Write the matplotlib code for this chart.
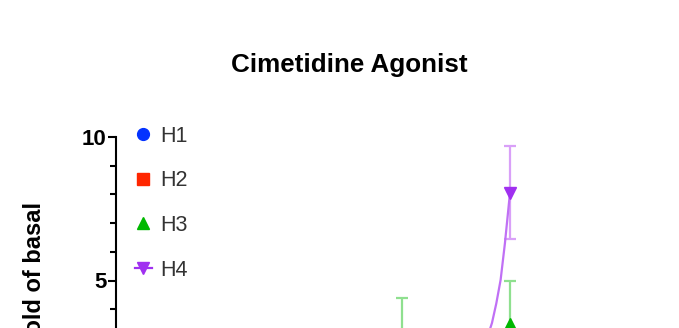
import matplotlib
matplotlib.use("Agg")
import matplotlib.pyplot as plt
from matplotlib.lines import Line2D

plt.rcParams['font.family'] = ['Liberation Sans', 'DejaVu Sans']

# Datos (log[cimetidina], veces sobre basal)
doses = [-7.0, -5.5, -4.0]
h1_mean = [1.0, 1.1, 1.2]
h1_sem = [0.1, 0.1, 0.2]
h2_mean = [1.0, 1.0, 1.1]
h2_sem = [0.1, 0.1, 0.1]
h3_mean = [1.0, 2.9, 3.5]
h3_sem = [0.2, 1.5, 1.48]
h4_mean = [1.0, 1.1, 8.05]
h4_sem = [0.1, 0.2, 1.62]

# Curva ajustada H4
h4_fit_x = [-7.0, -6.0, -5.0, -4.75, -4.5, -4.35, -4.25, -4.19, -4.13, -4.07, -4.0]
h4_fit_y = [1.0, 1.02, 1.15, 1.38, 1.98, 2.75, 3.52, 4.2, 5.02, 6.3, 8.05]

labels = ["H1", "H2", "H3", "H4"]
colors = ["#0433FF", "#FF2600", "#00B800", "#A030F0"]
light = ["#8FA0FF", "#FF9A8A", "#8FE08F", "#D9A0F8"]
markers = ["o", "s", "^", "v"]

fig = plt.figure(figsize=(6.79, 3.28), dpi=100)
ax = fig.add_axes([116/679, 1 - 424/328, 466/679, 287/328])

series = [(h1_mean, h1_sem), (h2_mean, h2_sem), (h3_mean, h3_sem), (h4_mean, h4_sem)]
for (m, s), c, lc, mk in zip(series, colors, light, markers):
    ax.errorbar(doses, m, yerr=s, fmt="none", ecolor=lc, elinewidth=1.6,
                capsize=4.3, capthick=1.6, zorder=2)
    ax.plot(doses, m, linestyle="none", marker=mk, color=c, markersize=8.5, zorder=3)

ax.plot(h4_fit_x, h4_fit_y, color="#C070F5", linewidth=1.6, zorder=2)

ax.set_xlim(-9.47, -3)
ax.set_ylim(0, 10)
ax.set_yticks([5, 10])
ax.set_yticks(range(0, 11), minor=True)
ax.tick_params(axis="y", which="major", length=6, width=1.5, labelsize=16, pad=1)
ax.tick_params(axis="y", which="minor", length=4, width=1.5)
for lab in ax.get_yticklabels():
    lab.set_fontweight("bold")
ax.spines["left"].set_linewidth(1.5)
ax.spines["bottom"].set_linewidth(1.5)
ax.spines["top"].set_visible(False)
ax.spines["right"].set_visible(False)
ax.set_xticks([])

ax.set_ylabel("Fold of basal", fontsize=17, fontweight="bold")
ax.yaxis.set_label_coords(-0.15, 0.52)

handles = []
for lab, c, mk in zip(labels, colors, markers):
    ls = "-" if lab == "H4" else "none"
    handles.append(Line2D([], [], color=c, marker=mk, linestyle=ls, markersize=8.5,
                          linewidth=1.6, label=lab))
leg = fig.legend(handles=handles, loc="upper left", bbox_to_anchor=(126/679, 1 - 117/328),
                 frameon=False, fontsize=15.5, handlelength=0.8, handletextpad=0.4,
                 labelspacing=1.1, borderaxespad=0)
for t in leg.get_texts():
    t.set_color("#333333")

fig.text(349/679, 1 - 72/328, "Cimetidine Agonist", ha="center", va="baseline",
         fontsize=18.7, fontweight="bold")

plt.savefig("out.png", dpi=100)
plt.close()
